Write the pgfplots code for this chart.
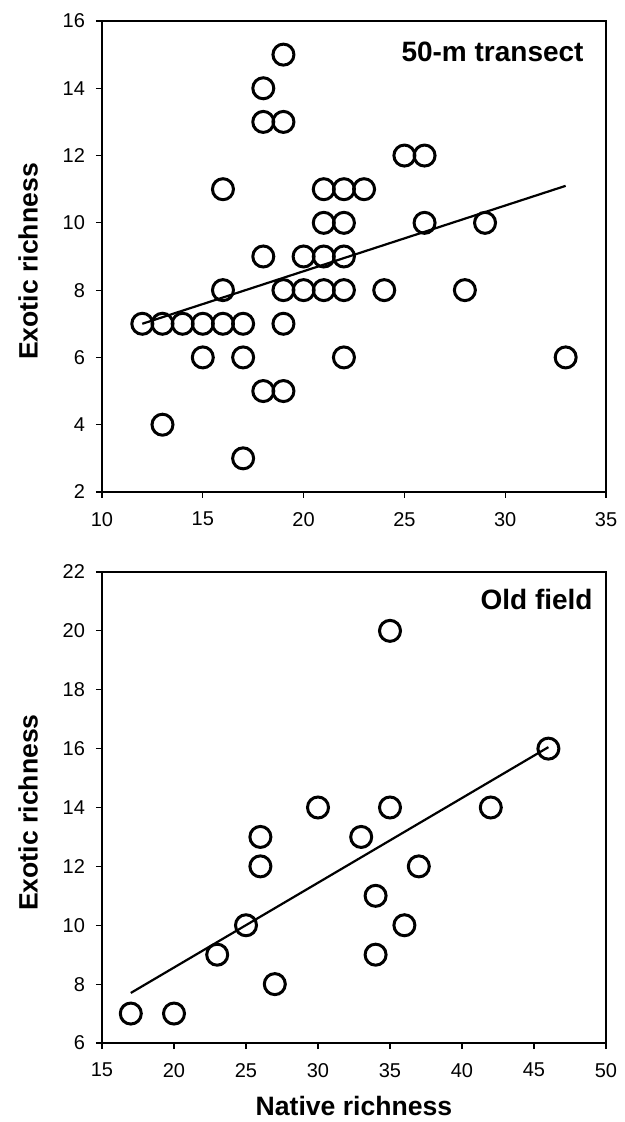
\documentclass[border=0pt]{standalone}
\usepackage{fontspec}
\setmainfont{Liberation Sans}
\usepackage{pgfplots}
\pgfplotsset{compat=1.18}
\begin{document}
\begin{tikzpicture}
\useasboundingbox (0,0) rectangle (312.5pt,561pt);
\pgfplotsset{
  richplot/.style={
    scale only axis,
    width=252pt, height=235.5pt,
    anchor=south west,
    axis lines=box,
    axis line style={line width=1.4pt},
    tick align=outside,
    major tick length=3pt,
    tick style={line width=0.6pt, black},
    xtick pos=bottom, ytick pos=left,
    tick label style={font=\fontsize{10}{11}\selectfont},
    xticklabel style={yshift=-3.5pt},
    yticklabel style={xshift=-2pt},
    clip=false,
    /pgf/number format/assume math mode=true,
  },
  ring/.style={only marks, mark=o, mark size=5.25pt, mark options={line width=1.5pt, black}},
  fit/.style={black, line width=1.1pt, mark=none},
}
% top panel: 50-m transect
\begin{axis}[richplot, at={(51pt,315pt)},
  xmin=10, xmax=35, ymin=2, ymax=16,
  xtick={10,15,...,35}, ytick={2,4,...,16},
]
\addplot[ring] coordinates {
  (19,15) (18,14) (18,13) (19,13) (25,12) (26,12)
  (16,11) (21,11) (22,11) (23,11)
  (21,10) (22,10) (26,10) (29,10)
  (18,9) (20,9) (21,9) (22,9)
  (16,8) (19,8) (20,8) (21,8) (22,8) (24,8) (28,8)
  (12,7) (13,7) (14,7) (15,7) (16,7) (17,7) (19,7)
  (15,6) (17,6) (22,6) (33,6)
  (18,5) (19,5) (13,4) (17,3)
};
\addplot[fit] coordinates {(12,7.0) (33,11.1)};
\node[anchor=base east, font=\fontsize{14}{15}\selectfont\bfseries, inner sep=0pt]
  at ([xshift=-11pt, yshift=-20.5pt]rel axis cs:1,1) {50-m transect};
\node[rotate=90, anchor=center, inner sep=0pt, font=\fontsize{13.3}{14}\selectfont\bfseries]
  at ([xshift=-37pt, yshift=-2.5pt]rel axis cs:0,0.5) {Exotic richness};
\end{axis}
% bottom panel: old field
\begin{axis}[richplot, at={(51pt,39.5pt)},
  xmin=15, xmax=50, ymin=6, ymax=22,
  xtick={15,20,...,50}, ytick={6,8,...,22},
  xlabel={Native richness},
  xlabel style={font=\fontsize{13.3}{14}\selectfont\bfseries, inner sep=1pt, yshift=-5pt},
]
\addplot[ring] coordinates {
  (35,20) (46,16) (30,14) (35,14) (42,14)
  (26,13) (33,13) (26,12) (37,12) (34,11)
  (25,10) (36,10) (23,9) (34,9) (27,8) (17,7) (20,7)
};
\addplot[fit] coordinates {(17,7.7) (46,16.05)};
\node[anchor=base east, font=\fontsize{14}{15}\selectfont\bfseries, inner sep=0pt]
  at ([xshift=-6.5pt, yshift=-19pt]rel axis cs:1,1) {Old field};
\node[rotate=90, anchor=center, inner sep=0pt, font=\fontsize{13.3}{14}\selectfont\bfseries]
  at ([xshift=-37pt, yshift=-2.5pt]rel axis cs:0,0.5) {Exotic richness};
\end{axis}
\end{tikzpicture}
\end{document}
